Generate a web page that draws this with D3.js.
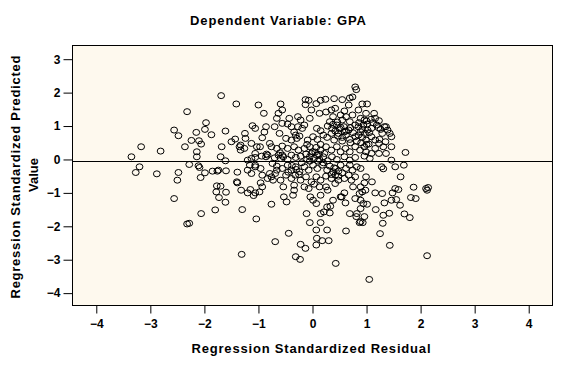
<!DOCTYPE html>
<html>
<head>
<meta charset="utf-8">
<script src="https://cdn.jsdelivr.net/npm/d3@7"></script>
<style>
  body { margin: 0; background: #ffffff; }
  svg text { font-family: "Liberation Sans", Arial, sans-serif; font-weight: bold; fill: #000; }
</style>
</head>
<body>
<div id="chart"></div>
<script>
// Tick values for the two axes
const xTicks = [-4, -3, -2, -1, 0, 1, 2, 3, 4];
const yTicks = [-4, -3, -2, -1, 0, 1, 2, 3];
const refLine = -0.04;

// Scattered cases: [standardized residual, standardized predicted value]
const outerCases = [
    [-3.35,0.08],[-3.17,0.38],[-3.2,-0.22],[-3.27,-0.39],[-2.88,-0.43],[-2.81,0.25],[-2.56,0.88],[-2.48,0.71],
    [-2.32,1.43],[-2.36,0.38],[-2.24,0.57],[-2.48,-0.39],[-2.5,-0.62],[-2.56,-1.17],[-2.32,-1.93],[-2.28,-1.91],
    [-2.28,-0.15],[-2.15,0.81],[-2.1,0.56],[-2.06,0.46],[-2.14,0.23],[-2.14,0.08],[-2.11,-0.19],[-2.09,-0.24],
    [-2.07,-0.54],[-1.99,-0.4],[-1.99,0.9],[-1.97,1.1],[-1.87,0.74],[-2.06,-1.62],[-1.8,-1.51],[-1.69,1.91],
    [-1.68,0.38],[-1.7,0.08],[-1.61,0.85],[-1.61,-0.04],[-1.6,-0.34],[-1.85,-0.35],[-1.76,-0.35],[-1.74,-0.32],
    [-1.77,-0.79],[-1.7,-0.8],[-1.78,-0.97],[-1.73,-1.14],[-1.61,-1.28],[-1.6,-0.98],[-1.5,0.53],[-1.43,0.61],
    [-1.41,1.66],[-1.39,-0.38],[-1.4,-0.67],[-1.39,-0.7],[-1.3,-1.5],[-1.31,-2.84],[-1.32,-0.92],[-1.35,0.38],
    [-1.33,0.28],[-1.25,0.78],[-1.24,0.63],[-1.2,-1.0],[-1.15,-0.9],[-1.09,-1.08],[-1.06,-1.0],[-1.11,1.01],
    [-1.06,0.93],[-1.0,1.63],[-1.04,-1.78],[-0.98,-0.97],[-0.96,-0.7],[-0.9,1.38],[-0.86,0.98],[-0.89,0.82],
    [-0.93,0.65],[-0.97,0.38],[-1.06,0.18],[-1.13,0.03],[-1.16,-0.17],[-1.06,-0.22],[-1.13,-0.42],[-1.2,-0.32],
    [-0.86,0.08],[-0.83,0.13],[-0.79,0.48],[-0.76,0.38],[-0.79,-0.42],[-0.76,-0.52],[-0.73,-0.62],[-0.69,-0.42],
    [-0.76,-1.34],[-0.69,-2.46],[-0.74,-0.12],[-0.66,-0.32],[-0.7,0.98],[-0.66,1.23],[-0.59,1.66],[-0.56,1.48],
    [-0.63,1.38],[-0.56,1.08],[-0.56,0.13],[-0.59,0.03],[-0.53,-1.12],[-0.48,-1.27],[-0.54,-0.82],[-0.59,-0.62],
    [-0.44,-2.21],[-0.43,1.23],[-0.39,0.98],[-0.34,0.82],[-0.31,0.73],[-0.27,1.28],[-0.22,1.18],[-0.19,0.93],
    [-0.24,0.7],[-0.34,-0.92],[-0.36,-1.07],[-0.31,-2.91],[-0.23,-2.99],[-0.22,-2.54],[-0.13,-2.66],[-0.11,-1.62],
    [-0.05,-1.89],[-0.13,1.79],[-0.07,1.77],[-0.13,1.64],[-0.02,1.48],[0.07,1.67],[0.15,1.77],[0.24,1.8],
    [0.4,1.82],[0.55,1.79],[0.69,1.84],[0.74,1.87],[0.79,2.17],[0.81,2.09],[0.13,1.38],[0.25,1.42],
    [0.35,1.48],[0.42,1.53],[0.52,1.33],[0.59,1.45],[0.67,1.63],[0.74,1.33],[0.85,1.48],[0.92,1.66],
    [1.01,1.66],[0.99,1.38],[1.14,1.38],[1.16,1.23],[1.08,1.2],[1.26,0.9],[1.36,0.98],[1.39,0.88],
    [1.43,0.78],[1.46,0.68],[1.46,0.38],[1.36,0.18],[1.23,0.18],[1.09,0.18],[1.72,0.21],[1.46,-0.02],
    [1.28,-0.22],[1.31,-0.28],[1.53,-0.22],[1.69,-0.17],[1.63,-0.52],[1.53,-0.87],[1.59,-0.9],[1.48,-1.0],
    [1.46,-1.22],[1.55,-1.2],[1.62,-1.37],[1.7,-1.63],[1.8,-1.74],[1.82,-1.14],[1.91,-1.17],[1.87,-0.83],
    [2.1,-0.87],[2.14,-0.84],[2.12,-0.92],[2.12,-2.88],[1.05,-3.59],[0.43,-3.11],[1.43,-2.57],[1.25,-2.22],
    [1.3,-1.91],[1.31,-1.67],[1.42,-1.61],[1.33,-1.3],[1.29,-1.02],[1.16,-1.0],[1.17,-1.5],[1.1,-0.67],
    [0.99,-0.52],[0.96,-0.7],[0.89,-0.82],[0.92,-0.97],[0.87,-1.02],[0.98,-0.92],[0.89,-1.22],[0.94,-1.32],
    [1.01,-1.34],[0.89,-1.47],[0.82,-1.62],[0.96,-1.71],[0.89,-1.86],[0.93,-1.89],[0.87,-1.89],[0.81,-1.71],
    [0.69,-1.62],[0.61,-1.3],[0.54,-1.12],[0.59,-1.0],[0.79,-1.17],[0.75,-0.82],[0.72,-0.62],[0.62,-2.14],
    [0.32,-1.6],[0.27,-1.42],[0.33,-1.4],[0.21,-1.57],[0.15,-1.62],[0.15,-1.89],[0.07,-2.11],[0.08,-2.36],
    [0.07,-2.56],[0.18,-2.43],[0.3,-2.43],[0.27,-2.11],[0.01,-1.22],[0.07,-1.32],[-0.04,-1.12],[-0.07,-0.87],
    [0.15,-1.07],[0.13,-0.82],[0.25,-0.82],[0.42,-0.72],[0.48,-0.62],[0.52,-1.12],[0.38,-1.22]
];

// Cases in the crowded middle of the cloud
const denseCases = [
    [-0.05,1.23],[0.55,1.18],[0.62,1.28],[0.69,1.13],[0.89,1.23],[0.96,1.18],[1.23,1.16],[0.32,1.13],[0.38,1.28],
    [-0.46,1.06],[-0.27,0.98],[-0.15,1.03],[0.08,0.93],[0.15,0.86],[0.28,1.0],[0.36,0.93],[0.45,1.03],[0.52,0.96],
    [0.59,0.83],[0.67,0.88],[0.79,1.03],[0.85,0.98],[0.94,1.03],[1.01,1.06],[1.09,0.93],[1.19,1.03],[1.33,0.98],
    [0.89,0.83],[1.02,0.88],[0.97,0.78],
    [-0.61,0.78],[-0.49,0.63],[-0.39,0.58],[-0.29,0.63],[-0.09,0.58],[0.01,0.68],[0.09,0.6],[0.2,0.73],[0.27,0.66],
    [0.35,0.78],[0.4,0.58],[0.47,0.7],[0.55,0.66],[0.62,0.73],[0.69,0.6],[0.79,0.68],[0.85,0.73],[0.92,0.66],
    [0.99,0.58],[1.09,0.68],[1.16,0.58],[1.24,0.6],[1.35,0.53],[1.29,0.78],
    [-1.33,0.43],[-1.26,0.33],[-1.13,0.48],[-1.03,0.38],[-0.66,0.33],[-0.56,0.4],[-0.46,0.33],[-0.34,0.38],
    [-0.26,0.28],[-0.15,0.33],[-0.05,0.38],[0.0,0.23],[0.07,0.36],[0.15,0.28],[0.25,0.38],[0.35,0.28],[0.45,0.38],
    [0.52,0.23],[0.61,0.33],[0.69,0.23],[0.79,0.38],[0.88,0.28],[0.96,0.38],[1.04,0.46],[0.99,0.23],[1.23,0.48],
    [1.31,0.38],[1.16,0.33],
    [-1.2,-0.02],[-1.06,0.06],[-0.94,0.1],[-0.85,0.16],[-0.63,0.13],[-0.54,0.08],[-0.46,0.0],[-0.39,0.13],
    [-0.31,0.06],[-0.22,0.1],[-0.12,0.16],[-0.05,0.08],[-0.02,0.18],[0.03,0.03],[0.08,0.13],[0.13,0.0],[0.2,0.08],
    [0.28,-0.04],[0.36,0.08],[0.45,0.0],[0.59,0.08],[0.69,-0.02],[0.79,0.06],[0.96,0.1],[1.06,0.03],
    [-1.06,-0.17],[-0.96,-0.27],[-0.66,-0.2],[-0.56,-0.27],[-0.46,-0.17],[-0.39,-0.32],[-0.31,-0.22],[-0.24,-0.37],
    [-0.15,-0.22],[-0.07,-0.32],[0.01,-0.17],[0.09,-0.27],[0.18,-0.17],[0.27,-0.32],[0.32,-0.2],[0.38,-0.37],
    [0.43,-0.27],[0.52,-0.17],[0.62,-0.27],[0.69,-0.17],[0.74,-0.32],[0.82,-0.22],[0.89,-0.27],
    [-0.93,-0.47],[-0.83,-0.57],[-0.49,-0.47],[-0.39,-0.57],[-0.32,-0.47],[-0.22,-0.62],[-0.12,-0.52],[-0.02,-0.67],
    [0.07,-0.52],[0.15,-0.62],[0.25,-0.5],[0.35,-0.57],[0.42,-0.47],[0.48,-0.5],[0.59,-0.57],[0.67,-0.47],[0.79,-0.52],
    [-0.93,-0.82],[-0.34,-0.77],[-0.15,-0.82],[0.03,-0.74],[0.28,-0.92]
];

// The darkest clumps, where circles pile on top of each other
const clumpCases = [
    [0.42,0.85],[0.5,0.92],[0.58,0.98],[0.48,0.78],[0.55,0.55],[0.62,0.85],[0.7,0.95],[0.75,0.8],[0.38,1.05],[0.46,1.12],
    [0.12,0.15],[0.05,0.22],[-0.05,-0.05],[0.2,-0.1],[0.1,-0.05],[-0.1,0.0],[0.15,0.45],[0.22,0.18],
    [-0.3,-0.3],[-0.38,-0.18],[-0.25,-0.45],[-0.45,-0.38],[0.4,-0.25],[0.48,-0.35],[0.35,-0.45],[0.55,-0.4],
    [0.9,0.5],[1.0,0.45],[0.92,0.9],[1.05,0.8],[0.82,0.55],[0.7,0.5],[-0.7,0.05],[-0.6,0.2],[-0.1,0.45],[-0.2,-0.1],
    [1.12,1.1],[1.22,0.95],[1.0,1.15],[0.86,1.1]
];

const cases = outerCases.concat(denseCases, clumpCases);

// Page and plot frame
const width = 572, height = 375;
const frame = {left: 72.5, right: 552.5, top: 45.5, bottom: 305.5};

const svg = d3.select("#chart")
    .append("svg")
    .attr("width", width)
    .attr("height", height);

const x = d3.scaleLinear()
    .domain([-4.44, 4.44])
    .range([frame.left, frame.right]);

const y = d3.scaleLinear()
    .domain([-4.37, 3.41])
    .range([frame.bottom, frame.top]);

// Plot background
svg.append("rect")
    .attr("x", frame.left)
    .attr("y", frame.top)
    .attr("width", frame.right - frame.left)
    .attr("height", frame.bottom - frame.top)
    .attr("fill", "#fef9ee");

// Reference line
svg.append("line")
    .attr("x1", frame.left)
    .attr("x2", frame.right)
    .attr("y1", Math.round(y(refLine)) + 0.5)
    .attr("y2", Math.round(y(refLine)) + 0.5)
    .attr("stroke", "#000")
    .attr("stroke-width", 1);

// Points
svg.append("g")
    .selectAll("ellipse")
    .data(cases)
    .join("ellipse")
    .attr("cx", d => x(d[0]))
    .attr("cy", d => y(d[1]))
    .attr("rx", 3.4)
    .attr("ry", 3.0)
    .attr("fill", "none")
    .attr("stroke", "#000")
    .attr("stroke-width", 1);

// Frame border
svg.append("rect")
    .attr("x", frame.left)
    .attr("y", frame.top)
    .attr("width", frame.right - frame.left)
    .attr("height", frame.bottom - frame.top)
    .attr("fill", "none")
    .attr("stroke", "#000")
    .attr("stroke-width", 1);

// Axes
const xAxis = svg.append("g")
    .attr("transform", `translate(0,${frame.bottom})`)
    .call(d3.axisBottom(x).tickValues(xTicks).tickSize(8).tickPadding(6).tickFormat(d3.format("d")));

const yAxis = svg.append("g")
    .attr("transform", `translate(${frame.left},0)`)
    .call(d3.axisLeft(y).tickValues(yTicks).tickSize(9).tickPadding(3).tickFormat(d3.format("d")));

[xAxis, yAxis].forEach(g => {
    g.select(".domain").remove();
    g.selectAll(".tick line").attr("stroke", "#000");
    g.selectAll(".tick text")
        .style("font-size", "12px")
        .style("font-weight", "bold")
        .style("font-family", "'Liberation Sans', Arial, sans-serif");
});

// Titles
svg.append("text")
    .attr("x", 278)
    .attr("y", 25)
    .attr("text-anchor", "middle")
    .attr("textLength", 176)
    .style("font-size", "13px")
    .text("Dependent Variable: GPA");

svg.append("text")
    .attr("x", 311)
    .attr("y", 353)
    .attr("text-anchor", "middle")
    .attr("textLength", 239)
    .style("font-size", "13px")
    .text("Regression Standardized Residual");

svg.append("text")
    .attr("transform", "translate(20,177) rotate(-90)")
    .attr("text-anchor", "middle")
    .attr("textLength", 243)
    .style("font-size", "13px")
    .text("Regression Standardized Predicted");

svg.append("text")
    .attr("transform", "translate(38,175) rotate(-90)")
    .attr("text-anchor", "middle")
    .style("font-size", "13px")
    .text("Value");
</script>
</body>
</html>
